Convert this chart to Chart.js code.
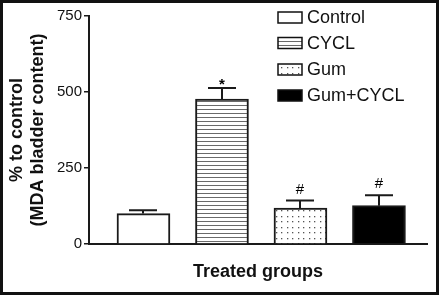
<!DOCTYPE html>
<html><head><meta charset="utf-8">
<script src="https://cdn.jsdelivr.net/npm/chart.js@4/dist/chart.umd.min.js"></script>
<style>html,body{margin:0;padding:0;background:#fff;} canvas{display:block;}</style>
</head><body>
<canvas id="c" width="439" height="295"></canvas>
<script>
const categories = ['Control', 'CYCL', 'Gum', 'Gum+CYCL'];
const meanValues = [100, 477, 118, 126];
const errorValues = [11, 36, 25, 34];
const markers = ['', '*', '#', '#'];
const yTicks = [0, 250, 500, 750];
const xTitle = 'Treated groups';
const yTitle = ['% to control', '(MDA bladder content)'];

const FONT = "'Liberation Sans', Arial, Helvetica, sans-serif";

function stripePattern() {
  const c = document.createElement('canvas'); c.width = 4; c.height = 4;
  const g = c.getContext('2d');
  g.fillStyle = '#fff'; g.fillRect(0, 0, 4, 4);
  g.fillStyle = '#6a6a6a'; g.fillRect(0, 1, 4, 1);
  return g.createPattern(c, 'repeat');
}
function dotPattern() {
  const c = document.createElement('canvas'); c.width = 11; c.height = 11;
  const g = c.getContext('2d');
  g.fillStyle = '#fff'; g.fillRect(0, 0, 11, 11);
  g.fillStyle = '#555';
  [[1,1],[6,1],[1,7],[6,7]].forEach(p => g.fillRect(p[0], p[1], 1.3, 1.3));
  return g.createPattern(c, 'repeat');
}
const fills = ['#ffffff', stripePattern(), dotPattern(), '#000000'];

const errorBarPlugin = {
  id: 'errorBars',
  afterDatasetsDraw(chart) {
    const ctx = chart.ctx;
    const meta = chart.getDatasetMeta(0);
    const y = chart.scales.y;
    ctx.save();
    ctx.strokeStyle = '#1a1a1a';
    ctx.lineWidth = 2;
    meta.data.forEach((bar, i) => {
      const top = y.getPixelForValue(meanValues[i] + errorValues[i]);
      const x = Math.round(bar.x);
      ctx.beginPath();
      ctx.moveTo(x, bar.y);
      ctx.lineTo(x, top);
      ctx.moveTo(x - 14, top);
      ctx.lineTo(x + 14, top);
      ctx.stroke();
      if (markers[i]) {
        ctx.fillStyle = '#000';
        ctx.textAlign = 'center';
        ctx.textBaseline = 'alphabetic';
        if (markers[i] === '*') {
          ctx.font = 'bold 15px ' + FONT;
          ctx.fillText(markers[i], x, top + 1);
        } else {
          ctx.font = '15px ' + FONT;
          ctx.fillText(markers[i], x, top - 7);
        }
      }
    });
    ctx.restore();
  }
};

const legendPlugin = {
  id: 'boxLegend',
  afterDraw(chart) {
    const ctx = chart.ctx;
    ctx.save();
    const bx = 278, bw = 24, bh = 11, tx = 307;
    const tops = [12, 37.5, 64, 90];
    categories.forEach((name, i) => {
      const t = tops[i];
      ctx.fillStyle = fills[i];
      ctx.fillRect(bx, t, bw, bh);
      ctx.strokeStyle = '#111';
      ctx.lineWidth = 1.5;
      ctx.strokeRect(bx, t, bw, bh);
      ctx.fillStyle = '#111';
      ctx.font = '18px ' + FONT;
      ctx.textAlign = 'left';
      ctx.textBaseline = 'middle';
      ctx.fillText(name, tx, t + bh / 2 + 1);
    });
    ctx.restore();
  }
};

const framePlugin = {
  id: 'frame',
  afterDraw(chart) {
    const ctx = chart.ctx;
    ctx.save();
    ctx.strokeStyle = '#111';
    ctx.lineWidth = 3;
    ctx.strokeRect(1.5, 1.5, chart.width - 3, chart.height - 3);
    ctx.restore();
  }
};

new Chart(document.getElementById('c'), {
  type: 'bar',
  data: {
    datasets: [{
      label: 'MDA',
      data: meanValues.map((v, i) => ({ x: i + 1, y: v })),
      backgroundColor: fills,
      borderColor: '#1a1a1a',
      borderWidth: 2,
      barThickness: 53,
      borderSkipped: 'start'
    }]
  },
  options: {
    responsive: false,
    animation: false,
    devicePixelRatio: 1,
    layout: { padding: { left: 0, top: 16, right: 12, bottom: 0 } },
    plugins: { legend: { display: false }, tooltip: { enabled: false } },
    scales: {
      x: {
        type: 'linear',
        offset: false,
        min: 0.306,
        max: 4.612,
        ticks: { display: false },
        grid: { display: false },
        border: { display: true, color: '#1a1a1a', width: 2 },
        title: {
          display: true, text: xTitle, color: '#111',
          font: { family: FONT, size: 18, weight: 'bold', lineHeight: 1.2 },
          padding: { top: 0, bottom: 12 }
        },
        afterFit(s) { s.height = 51; }
      },
      y: {
        min: 0, max: 750,
        afterBuildTicks(s) { s.ticks = yTicks.map(v => ({ value: v })); },
        ticks: { color: '#111', padding: 2, font: { family: FONT, size: 15 } },
        grid: { drawOnChartArea: false, drawTicks: true, tickLength: 5, color: '#1a1a1a', lineWidth: 1.5 },
        border: { display: true, color: '#1a1a1a', width: 2 },
        title: {
          display: true, text: yTitle, color: '#111',
          font: { family: FONT, size: 18, weight: 'bold', lineHeight: 1.14 },
          padding: { top: 7, bottom: 0 }
        },
        afterFit(s) { s.width = 89; }
      }
    }
  },
  plugins: [errorBarPlugin, legendPlugin, framePlugin]
});
</script>
</body></html>
